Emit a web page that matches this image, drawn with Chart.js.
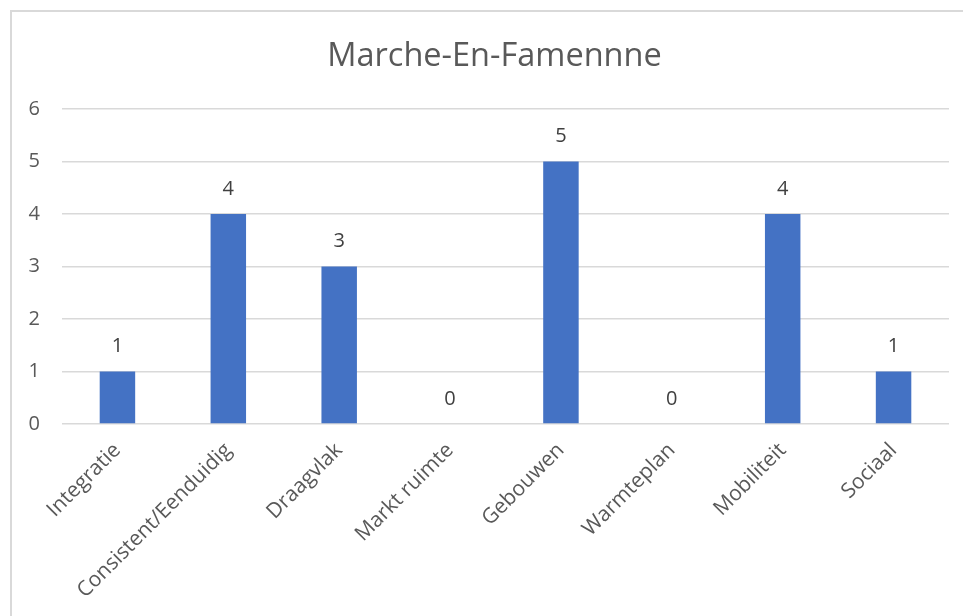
<!DOCTYPE html>
<html lang="nl">
<head>
    <meta charset="utf-8" />
    <title>Marche-En-Famennne</title>
    <style>
        html, body { margin: 0; padding: 0; background: #fff; overflow: hidden; }
        #frame { position: absolute; left: 10px; top: 10px; width: 1000px; height: 700px; border: 2px solid #d9d9d9; box-sizing: border-box; }
        #wrap { position: absolute; left: 0; top: 0; width: 963px; height: 616px; }
    </style>
</head>
<body>
    <div id="frame"></div>
    <div id="wrap">
        <canvas id="Chart1" width="963" height="616"></canvas>
    </div>

    <script src="https://cdn.jsdelivr.net/npm/chart.js"></script>
    <script>
        // data
        const categories = ['Integratie', 'Consistent/Eenduidig', 'Draagvlak', 'Markt ruimte', 'Gebouwen', 'Warmteplan', 'Mobiliteit', 'Sociaal'];
        const values = [1, 4, 3, 0, 5, 0, 4, 1];
        const yTicks = [0, 1, 2, 3, 4, 5, 6];
        const chartTitle = 'Marche-En-Famennne';

        const FONT = "'Open Sans', sans-serif";
        const TEXT = '#595959';

        // simple value labels above each bar
        const valueLabels = {
            id: 'valueLabels',
            afterDatasetsDraw(chart) {
                const ctx = chart.ctx;
                const meta = chart.getDatasetMeta(0);
                ctx.save();
                ctx.font = '20px ' + FONT;
                ctx.fillStyle = '#404040';
                ctx.textAlign = 'center';
                ctx.textBaseline = 'bottom';
                meta.data.forEach(function (bar, i) {
                    ctx.fillText(String(values[i]), bar.x, bar.y - 15);
                });
                ctx.restore();
            }
        };

        // title is centred on the outer frame (which runs off the right edge), not on the canvas
        const frameTitle = {
            id: 'frameTitle',
            afterDraw(chart) {
                const ctx = chart.ctx;
                ctx.save();
                ctx.font = '32.5px ' + FONT;
                ctx.fillStyle = TEXT;
                ctx.textAlign = 'center';
                ctx.textBaseline = 'middle';
                ctx.fillText(chartTitle, chart.width / 2 + 13, 57);
                ctx.restore();
            }
        };

        const ctx = document.getElementById('Chart1').getContext('2d');
        const chart1 = new Chart(ctx, {
            type: 'bar',
            data: {
                labels: categories,
                datasets: [{
                    label: chartTitle,
                    data: values,
                    backgroundColor: '#4472c4',
                    borderWidth: 0,
                    barPercentage: 1,
                    categoryPercentage: 0.32
                }]
            },
            options: {
                responsive: false,
                animation: false,
                layout: { padding: { left: 0, right: 14, top: 109, bottom: 0 } },
                plugins: {
                    legend: { display: false },
                    tooltip: { enabled: false },
                    title: { display: false }
                },
                scales: {
                    x: {
                        grid: { display: false, drawTicks: false },
                        border: { display: false },
                        ticks: {
                            color: TEXT,
                            font: { family: FONT, size: 21 },
                            minRotation: 45,
                            maxRotation: 45,
                            padding: 14,
                            autoSkip: false
                        },
                        afterFit(scale) { scale.height = 192; }
                    },
                    y: {
                        min: 0,
                        max: 6,
                        afterBuildTicks(scale) { scale.ticks = yTicks.map(v => ({ value: v })); },
                        grid: { color: '#d9d9d9', lineWidth: 1.5, drawTicks: false },
                        border: { display: false },
                        ticks: {
                            color: TEXT,
                            font: { family: FONT, size: 20 },
                            padding: 22
                        },
                        afterFit(scale) { scale.width = 62; }
                    }
                }
            },
            plugins: [valueLabels, frameTitle]
        });
    </script>
</body>
</html>
